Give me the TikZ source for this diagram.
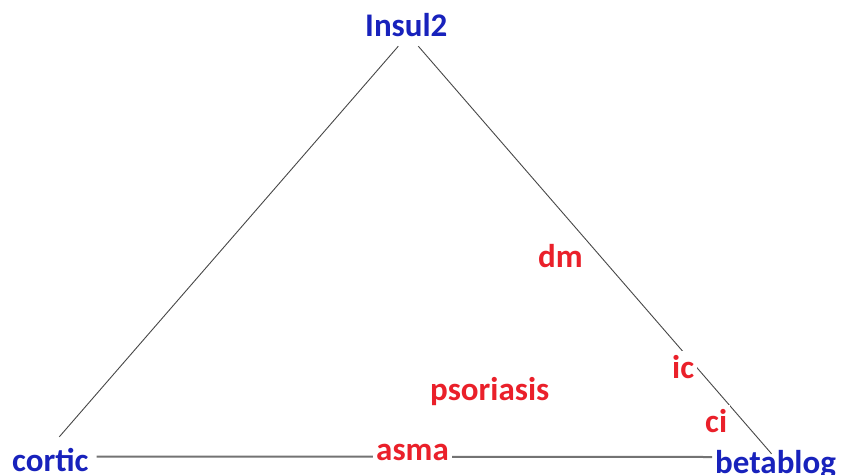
\documentclass[tikz,border=0pt]{standalone}
\usepackage{fontspec}
\setmainfont{Carlito}
\usetikzlibrary{positioning}
\definecolor{vblue}{RGB}{24,34,188}
\definecolor{ered}{RGB}{234,32,42}
\tikzset{
  vertex/.style = {
    text=vblue, font=\fontsize{33}{36}\selectfont\bfseries,
    inner xsep=3pt, inner ysep=2pt, text height=25pt, text depth=8pt,
    anchor=base west
  },
  elabel/.style = {
    text=ered, font=\fontsize{33}{36}\selectfont\bfseries, fill=white,
    inner xsep=3pt, inner ysep=2pt, text height=25pt, text depth=8pt,
    anchor=base west
  },
  side/.style = {draw=black!72, line width=0.9pt},
  bottomline/.style = {draw=black!55, line width=2pt}
}

\begin{document}
\begin{tikzpicture}[x=1pt, y=-1pt]
  \fill[white] (0,0) rectangle (843,474);
  \useasboundingbox (0,0) rectangle (843,474);

  % vertices
  \node[vertex] (insul)    at (362,36)  {Insul2};
  \node[vertex] (cortic)   at (9,471)   {cortic};
  \node[vertex] (betablog) at (712,473) {betablog};

  % edges
  \draw[side] ([xshift=-8pt]insul.south) -- ([xshift=9pt,yshift=7pt]cortic.north);
  \draw[side] ([xshift=12pt]insul.south) -- ([xshift=-4pt,yshift=-8pt]betablog.north);
  \draw[bottomline] ([xshift=5pt,yshift=6pt]cortic.east) -- ([yshift=7.5pt]betablog.west);

  % edge labels
  \node[elabel] (dm)        at (535,267) {dm};
  \node[elabel] (ic)        at (669,378) {ic};
  \node[elabel] (ci)        at (702,432) {ci};
  \node[elabel] (psoriasis) at (427,400) {psoriasis};
  \node[elabel] (asma)      at (373,460) {asma};

\end{tikzpicture}
\end{document}
